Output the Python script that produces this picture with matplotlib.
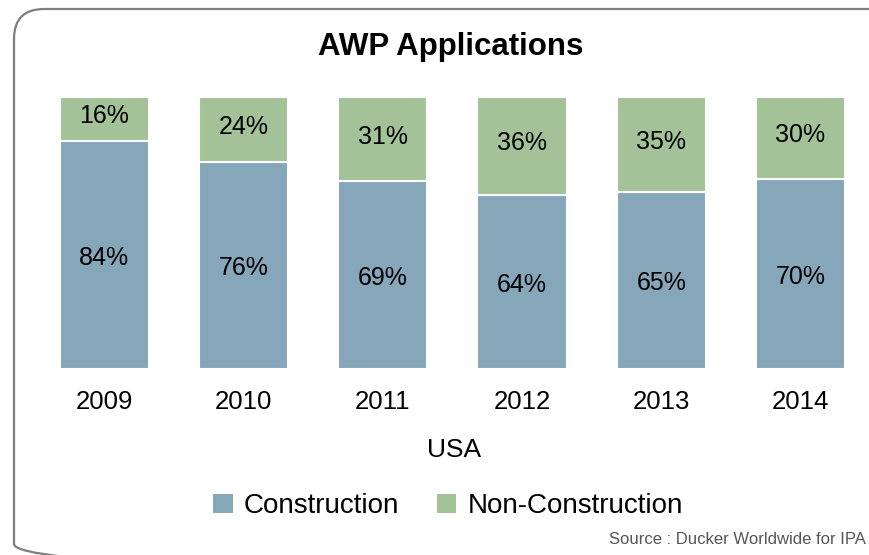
import matplotlib
matplotlib.use('Agg')
import matplotlib.pyplot as plt
from matplotlib.patches import FancyBboxPatch, Patch
import numpy as np

matplotlib.rcParams['font.family'] = ['Liberation Sans', 'DejaVu Sans']

years = ['2009', '2010', '2011', '2012', '2013', '2014']
construction = [84, 76, 69, 64, 65, 70]
non_construction = [16, 24, 31, 36, 35, 30]

blue = '#86A6BA'
green = '#A3C297'

fig = plt.figure(figsize=(8.7, 5.55), dpi=100)

# rounded frame behind everything (pixel coords)
bg = fig.add_axes([0, 0, 1, 1])
bg.set_xlim(0, 870)
bg.set_ylim(555, 0)
bg.axis('off')
frame = FancyBboxPatch((14, 9), 885, 565, boxstyle='round,pad=0,rounding_size=30',
                       edgecolor='#7f7f7f', facecolor='none', linewidth=1.6)
bg.add_patch(frame)

ax = fig.add_axes([0.04, 0.335, 0.96, 0.49])
ax.patch.set_alpha(0)

x = np.arange(len(years))
width = 0.64
b1 = ax.bar(x, construction, width, color=blue, edgecolor='white', linewidth=1.5,
            label='Construction')
b2 = ax.bar(x, non_construction, width, bottom=construction, color=green,
            edgecolor='white', linewidth=1.5, label='Non-Construction')

for i in range(len(years)):
    ax.text(x[i], construction[i] / 2 - 1, '{}%'.format(construction[i]),
            ha='center', va='center', fontsize=18)
    ax.text(x[i], construction[i] + non_construction[i] / 2 + 1,
            '{}%'.format(non_construction[i]), ha='center', va='center', fontsize=18)

ax.set_xlim(-0.5, 5.5)
ax.set_ylim(0, 100)
ax.set_yticks([])
ax.set_xticks(x)
ax.set_xticklabels(years, fontsize=18.5)
ax.tick_params(axis='x', length=0, pad=15)
for s in ax.spines.values():
    s.set_visible(False)

fig.text(451 / 870, 1 - 47 / 555, 'AWP Applications', ha='center', va='center',
         fontsize=22.5, fontweight='bold')
fig.text(454 / 870, 1 - 450 / 555, 'USA', ha='center', va='center', fontsize=19)

handles = [Patch(facecolor=blue, edgecolor='none'),
           Patch(facecolor=green, edgecolor='none')]
fig.legend(handles, ['Construction', 'Non-Construction'], loc='center',
           bbox_to_anchor=(448 / 870, 1 - 506 / 555), ncol=2, frameon=False,
           fontsize=20, handlelength=0.7, handleheight=0.7, handletextpad=0.4,
           columnspacing=1.35)

fig.text(866 / 870, 1 - 540 / 555, 'Source : Ducker Worldwide for IPA', ha='right',
         va='center', fontsize=12, color='#555555')

fig.savefig('out.png', dpi=100)
